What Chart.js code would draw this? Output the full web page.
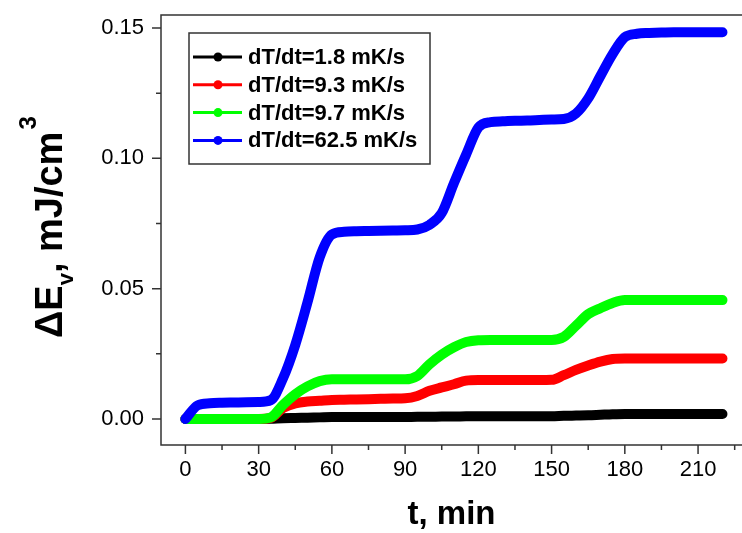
<!DOCTYPE html>
<html>
<head>
<meta charset="utf-8">
<script src="https://cdn.jsdelivr.net/npm/chart.js@4.4.0/dist/chart.umd.min.js"></script>
<style>
  body { margin: 0; background: #fff; }
  canvas { display: block; }
</style>
</head>
<body>
<canvas id="chart" width="742" height="533"></canvas>
<script>
// time, min
const times = [0, 5, 10, 15, 20, 25, 30, 35, 40, 45, 50, 55, 60, 65, 70, 75, 80, 85, 90, 95,
  100, 105, 110, 115, 120, 125, 130, 135, 140, 145, 150, 155, 160, 165, 170, 175, 180, 185,
  190, 195, 200, 205, 210, 215, 220];

// dE_v, mJ/cm3
const rate18 = [0, 0, 0, 0, 0, 0, 0, 0.0001, 0.0003, 0.0004, 0.0005, 0.0006, 0.0007, 0.0007,
  0.0007, 0.0007, 0.0007, 0.0007, 0.0007, 0.0008, 0.0008, 0.0009, 0.0009, 0.0010, 0.0010,
  0.0010, 0.0010, 0.0010, 0.0010, 0.0010, 0.0010, 0.0012, 0.0013, 0.0014, 0.0016, 0.0018,
  0.0019, 0.0019, 0.0019, 0.0019, 0.0019, 0.0019, 0.0019, 0.0019, 0.0019];
const rate93 = [0, 0, 0, 0, 0, 0, 0, 0.0004, 0.0042, 0.0060, 0.0067, 0.0070, 0.0073, 0.0074,
  0.0075, 0.0076, 0.0077, 0.0078, 0.0079, 0.0088, 0.0108, 0.0121, 0.0133, 0.0147, 0.0149,
  0.0149, 0.0149, 0.0149, 0.0149, 0.0149, 0.0150, 0.0168, 0.0188, 0.0205, 0.0220, 0.0230,
  0.0232, 0.0232, 0.0232, 0.0232, 0.0232, 0.0232, 0.0232, 0.0232, 0.0232];
const rate97 = [0, 0, 0, 0, 0, 0, 0, 0.0006, 0.0054, 0.0095, 0.0125, 0.0145, 0.0152, 0.0152,
  0.0152, 0.0152, 0.0152, 0.0152, 0.0152, 0.0165, 0.0210, 0.0247, 0.0275, 0.0295, 0.0302,
  0.0303, 0.0303, 0.0303, 0.0303, 0.0303, 0.0303, 0.0315, 0.0358, 0.0402, 0.0425, 0.0445,
  0.0456, 0.0456, 0.0456, 0.0456, 0.0456, 0.0456, 0.0456, 0.0456, 0.0456];
const rate625 = [0, 0.0052, 0.0060, 0.0062, 0.0063, 0.0064, 0.0065, 0.0072, 0.0156, 0.0284,
  0.0447, 0.0620, 0.0708, 0.0718, 0.0720, 0.0721, 0.0722, 0.0723, 0.0724, 0.0727, 0.0745,
  0.0790, 0.0905, 0.1015, 0.1118, 0.1139, 0.1142, 0.1144, 0.1145, 0.1147, 0.1149, 0.1151,
  0.1172, 0.1230, 0.1316, 0.1400, 0.1465, 0.1478, 0.1481, 0.1483, 0.1484, 0.1484, 0.1484,
  0.1484, 0.1484];

const seriesLabels = ["dT/dt=1.8 mK/s", "dT/dt=9.3 mK/s", "dT/dt=9.7 mK/s", "dT/dt=62.5 mK/s"];
const seriesColors = ["#000000", "#ff0000", "#00ff00", "#0000ff"];

const xMajorTicks = [0, 30, 60, 90, 120, 150, 180, 210];
const xMinorTicks = [15, 45, 75, 105, 135, 165, 195, 225];
const yMajorTicks = [0, 0.05, 0.10, 0.15];
const yMinorTicks = [0.025, 0.075, 0.125];

const FONT = "'Liberation Sans', Arial, sans-serif";

function toPoints(vals) {
  return times.map((t, i) => ({ x: t, y: vals[i] }));
}

const allSeries = [rate18, rate93, rate97, rate625];

// frame, ticks, legend box and y title
const decorations = {
  id: "decorations",
  afterDraw(chart) {
    const ctx = chart.ctx;
    const area = chart.chartArea;
    const xs = chart.scales.x;
    const ys = chart.scales.y;

    ctx.save();
    ctx.strokeStyle = "#333";
    ctx.lineWidth = 1.5;
    // right side of the frame falls outside the picture
    ctx.beginPath();
    ctx.moveTo(chart.width, area.top);
    ctx.lineTo(area.left, area.top);
    ctx.lineTo(area.left, area.bottom);
    ctx.lineTo(chart.width, area.bottom);
    ctx.stroke();

    ctx.beginPath();
    xMajorTicks.forEach(v => {
      const px = xs.getPixelForValue(v);
      ctx.moveTo(px, area.bottom); ctx.lineTo(px, area.bottom + 9);
    });
    xMinorTicks.forEach(v => {
      const px = xs.getPixelForValue(v);
      ctx.moveTo(px, area.bottom); ctx.lineTo(px, area.bottom + 5);
    });
    yMajorTicks.forEach(v => {
      const py = ys.getPixelForValue(v);
      ctx.moveTo(area.left, py); ctx.lineTo(area.left - 9, py);
    });
    yMinorTicks.forEach(v => {
      const py = ys.getPixelForValue(v);
      ctx.moveTo(area.left, py); ctx.lineTo(area.left - 5, py);
    });
    ctx.stroke();

    // legend
    const box = { left: 189, top: 33, right: 430, bottom: 164 };
    ctx.fillStyle = "#fff";
    ctx.fillRect(box.left, box.top, box.right - box.left, box.bottom - box.top);
    ctx.strokeStyle = "#333";
    ctx.lineWidth = 1.5;
    ctx.strokeRect(box.left, box.top, box.right - box.left, box.bottom - box.top);
    ctx.font = "bold 22px " + FONT;
    ctx.textBaseline = "middle";
    ctx.textAlign = "left";
    chart.data.datasets.forEach((ds, i) => {
      const y = box.top + 24 + i * 27.8;
      ctx.strokeStyle = ds.borderColor;
      ctx.lineWidth = 3;
      ctx.beginPath();
      ctx.moveTo(box.left + 4, y); ctx.lineTo(box.left + 53, y);
      ctx.stroke();
      ctx.fillStyle = ds.borderColor;
      ctx.beginPath();
      ctx.arc(box.left + 29, y, 4.5, 0, Math.PI * 2);
      ctx.fill();
      ctx.fillStyle = "#000";
      ctx.fillText(ds.label, box.left + 59, y + 1);
    });

    // y axis title: ΔE_v, mJ/cm^3
    ctx.translate(62, 338);
    ctx.rotate(-Math.PI / 2);
    ctx.fillStyle = "#000";
    ctx.textBaseline = "alphabetic";
    let pos = 0;
    const part = (text, size, shift) => {
      ctx.font = "bold " + size + "px " + FONT;
      ctx.fillText(text, pos, shift);
      pos += ctx.measureText(text).width;
    };
    part("ΔE", 38, 0);
    part("v", 22, 11);
    part(", mJ/cm", 38, 0);
    pos += 2;
    part("3", 24, -26);
    ctx.restore();
  }
};

new Chart(document.getElementById("chart"), {
  type: "line",
  data: {
    datasets: allSeries.map((vals, i) => ({
      label: seriesLabels[i],
      data: toPoints(vals),
      borderColor: seriesColors[i],
      backgroundColor: seriesColors[i],
      borderWidth: 10,
      borderCapStyle: "round",
      borderJoinStyle: "round",
      cubicInterpolationMode: "monotone",
      pointRadius: 0,
      order: 3 - i
    }))
  },
  options: {
    responsive: false,
    animation: false,
    layout: { padding: { top: 15, right: 0, left: 0, bottom: 0 } },
    plugins: {
      legend: { display: false },
      tooltip: { enabled: false }
    },
    scales: {
      x: {
        type: "linear",
        min: -10,
        max: 228,
        grid: { display: false, drawTicks: false },
        border: { display: false },
        afterBuildTicks: s => { s.ticks = xMajorTicks.map(v => ({ value: v })); },
        afterFit: s => { s.height = 88; s.paddingLeft = 0; s.paddingRight = 0; },
        ticks: {
          color: "#000",
          padding: 12,
          maxRotation: 0,
          font: { family: FONT, size: 22 }
        },
        title: {
          display: true,
          text: "t, min",
          color: "#000",
          padding: 0,
          font: { family: FONT, size: 33, weight: "bold", lineHeight: 1.1 }
        }
      },
      y: {
        min: -0.01,
        max: 0.155,
        grid: { display: false, drawTicks: false },
        border: { display: false },
        afterBuildTicks: s => { s.ticks = yMajorTicks.map(v => ({ value: v })); },
        afterFit: s => { s.width = 161; s.paddingTop = 0; s.paddingBottom = 0; },
        ticks: {
          color: "#000",
          padding: 17,
          font: { family: FONT, size: 22 },
          callback: v => v.toFixed(2)
        }
      }
    }
  },
  plugins: [decorations]
});
</script>
</body>
</html>
